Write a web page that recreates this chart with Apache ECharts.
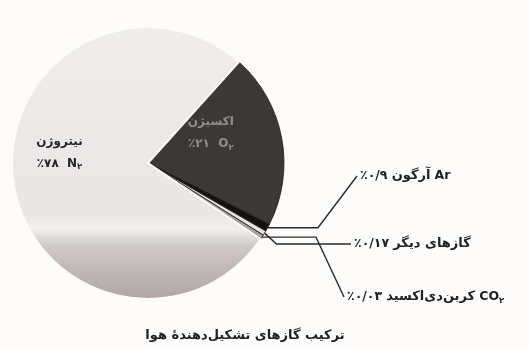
<!DOCTYPE html>
<html>
<head>
<meta charset="utf-8">
<script src="https://cdn.jsdelivr.net/npm/echarts@6/dist/echarts.min.js"></script>
<style>
  html, body { margin: 0; padding: 0; background: #fdfcfa; }
  #airpie { width: 529px; height: 347px; }
</style>
</head>
<body>
<div id="airpie"></div>
<script type="text/javascript">
// gases of the air, in the order the slices run clockwise
var gasNames = ['اکسیژن', 'آرگون', 'گازهای دیگر', 'کربن‌دی‌اکسید', 'نیتروژن'];
var gasFormulas = ['O', 'Ar', '', 'CO', 'N'];
var formulaSubs = ['۲', '', '', '۲', '۲'];
var gasPercents = [21, 0.9, 0.17, 0.03, 78];
var percentLabels = ['٪۲۱', '٪۰/۹', '٪۰/۱۷', '٪۰/۰۳', '٪۷۸'];
var chartTitle = 'ترکیب گازهای تشکیل‌دهندهٔ هوا';

var myChart = echarts.init(document.getElementById('airpie'));

var sliceColors = [
    '#3b3835',
    '#141210',
    '#e9e5e3',
    '#a7a09e',
    {
        type: 'linear', x: 0, y: 0, x2: 0, y2: 1,
        colorStops: [
            { offset: 0, color: '#efeeec' },
            { offset: 0.68, color: '#e9e6e5' },
            { offset: 0.74, color: '#f2f0ef' },
            { offset: 0.8, color: '#d0c9c9' },
            { offset: 1, color: '#aea4a4' }
        ]
    }
];
var insideIdx = { 0: [-7, -20], 4: [-18, -22] };

function formulaText(i) {
    if (!gasFormulas[i]) return '';
    return '{p|' + gasFormulas[i] + '}' + (formulaSubs[i] ? '{s|' + formulaSubs[i] + '}' : '');
}

var pieData = gasNames.map(function (name, i) {
    var item = {
        name: name,
        value: gasPercents[i],
        itemStyle: {
            color: sliceColors[i],
            borderColor: i === 4 ? '#fdfcfa' : '#1c1a19',
            borderWidth: i === 4 ? 2 : 0.8
        }
    };
    if (insideIdx[i]) {
        item.label = {
            position: 'inside',
            offset: insideIdx[i],
            formatter: '{n|' + name + '}\n{p|' + percentLabels[i] + '  }' + formulaText(i),
            color: i === 0 ? '#938d89' : '#262626'
        };
        item.labelLine = { show: false };
    } else {
        item.label = {
            position: 'outside',
            formatter: '{q|' + percentLabels[i] + '} {m|' + name + '}' +
                (gasFormulas[i] ? ' ' + formulaText(i).replace('{p|', '{q|') : '')
        };
    }
    return item;
});

var option = {
    backgroundColor: '#fdfcfa',
    animation: false,
    title: {
        text: chartTitle,
        left: 240,
        top: 324,
        textAlign: 'center',
        textStyle: {
            fontFamily: 'DejaVu Sans',
            fontWeight: 'bold',
            fontSize: 13,
            color: '#222'
        }
    },
    series: [{
        type: 'pie',
        center: [148, 163],
        radius: 136,
        startAngle: 48,
        clockwise: true,
        minAngle: 2,
        avoidLabelOverlap: false,
        data: pieData,
        label: {
            fontFamily: 'DejaVu Sans',
            fontWeight: 'bold',
            fontSize: 12,
            color: '#222',
            rich: {
                n: { fontFamily: 'DejaVu Sans', fontWeight: 'bold', fontSize: 12, lineHeight: 28 },
                p: { fontFamily: 'DejaVu Sans', fontWeight: 'bold', fontSize: 12, lineHeight: 16 },
                m: { fontFamily: 'DejaVu Sans', fontWeight: 'bold', fontSize: 13, lineHeight: 16 },
                q: { fontFamily: 'DejaVu Sans', fontWeight: 'bold', fontSize: 12.5, lineHeight: 16 },
                s: { fontFamily: 'DejaVu Sans', fontWeight: 'bold', fontSize: 8.5, verticalAlign: 'bottom', lineHeight: 15 }
            }
        },
        labelLine: {
            show: true,
            lineStyle: { color: '#2a2a2a', width: 1.4 }
        },
        labelLayout: function (p) {
            // where the three small gases are written, right of the pie
            var slots = { 1: [360, 176, 318], 2: [354, 244, null], 3: [347, 297, 316] };
            var s = slots[p.dataIndex];
            if (!s || !p.labelLinePoints) return {};
            var a = p.labelLinePoints[0];
            var pts = s[2] ? [a, [s[2], a[1]], [s[0] - 3, s[1]]]
                           : [a, [a[0] + 12, s[1]], [s[0] - 3, s[1]]];
            return {
                x: s[0],
                y: s[1],
                align: 'left',
                verticalAlign: 'middle',
                labelLinePoints: pts
            };
        }
    }]
};
myChart.setOption(option);
</script>
</body>
</html>
